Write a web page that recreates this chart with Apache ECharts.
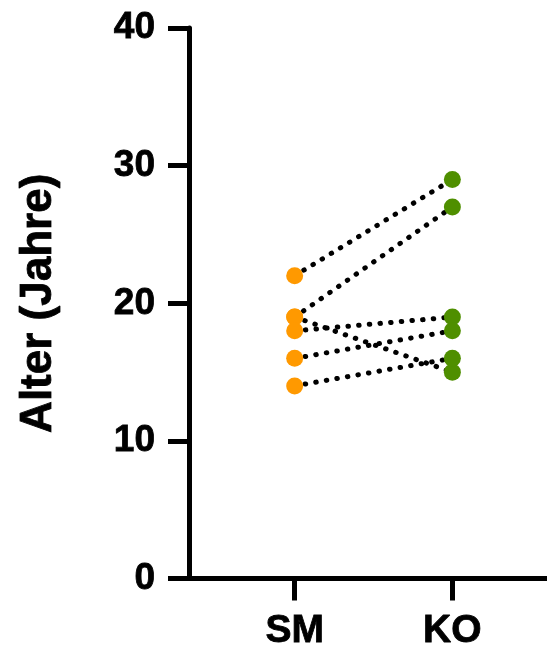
<!DOCTYPE html>
<html>
<head>
<meta charset="utf-8">
<script src="https://cdn.jsdelivr.net/npm/echarts@6/dist/echarts.min.js"></script>
<style>html,body{margin:0;padding:0;background:#fff}#c{width:547px;height:651px}</style>
</head>
<body>
<div id="c"></div>
<script>
const categories = ['SM', 'KO'];
const smValues = [22, 19, 19, 18, 16, 14];
const koValues = [29, 27, 15, 19, 18, 16];
const yTicks = [0, 10, 20, 30, 40];
const yAxisTitle = 'Alter (Jahre)';

const FONT = '"Liberation Sans", Arial, sans-serif';
const chart = echarts.init(document.getElementById('c'), null, {renderer: 'canvas'});

const pairSeries = smValues.map((v, i) => ({
  type: 'line',
  data: [[1, v], [2, koValues[i]]],
  symbol: 'none',
  silent: true,
  z: 2,
  lineStyle: {color: '#000', width: 5, type: [0.5, 10.2], cap: 'round'}
}));

const txt = {color: '#000', fontWeight: 'bold', fontFamily: FONT, textBorderColor: '#000', textBorderWidth: 0.8};

chart.setOption({
  animation: false,
  grid: {left: 189, right: 0, top: 28, bottom: 71, containLabel: false},
  xAxis: {
    type: 'value', min: 0.33, max: 2.6,
    splitLine: {show: false},
    axisLine: {lineStyle: {color: '#000', width: 5}},
    axisTick: {show: true, customValues: [1, 2], length: 22, lineStyle: {color: '#000', width: 5}},
    axisLabel: Object.assign({
      customValues: [1, 2], margin: 33,
      formatter: v => categories[Math.round(v) - 1] || '',
      fontSize: 39
    }, txt)
  },
  yAxis: {
    type: 'value', min: yTicks[0], max: yTicks[yTicks.length - 1], interval: 10,
    name: yAxisTitle, nameLocation: 'middle', nameGap: 128,
    nameTextStyle: Object.assign({fontSize: 44}, txt),
    splitLine: {show: false},
    axisLine: {show: true, lineStyle: {color: '#000', width: 5}},
    axisTick: {show: true, length: 21, lineStyle: {color: '#000', width: 5}},
    axisLabel: Object.assign({margin: 34, fontSize: 37}, txt)
  },
  series: pairSeries.concat([
    {type: 'scatter', data: smValues.map(v => [1, v]), symbolSize: 17, z: 5,
     itemStyle: {color: '#FF9900', opacity: 1}},
    {type: 'scatter', data: koValues.map(v => [2, v]), symbolSize: 17, z: 5,
     itemStyle: {color: '#4F8F00', opacity: 1}}
  ])
});
</script>
</body>
</html>
